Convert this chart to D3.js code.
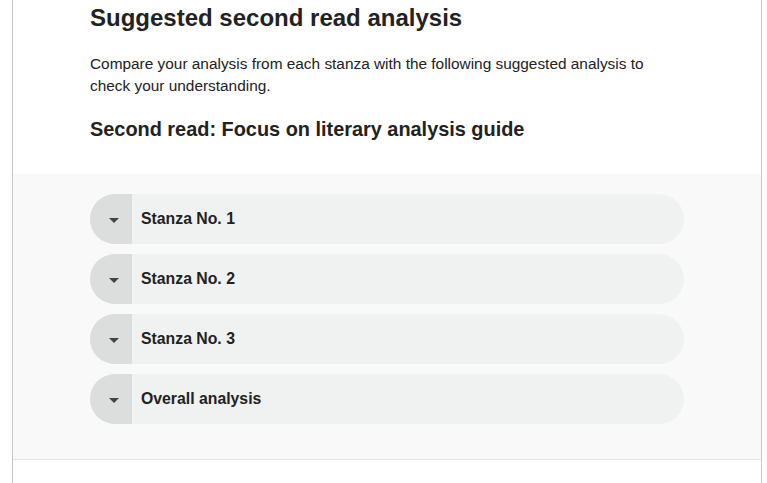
<!DOCTYPE html>
<html><head><meta charset="utf-8">
<script src="https://cdn.jsdelivr.net/npm/d3@7"></script>
<style>body{margin:0;background:#fff;font-family:"Liberation Sans",Arial,sans-serif;}</style>
</head><body>
<svg id="page" width="767" height="483"></svg>
<script>
var title = 'Suggested second read analysis';
var introLines = ['Compare your analysis from each stanza with the following suggested analysis to',
  'check your understanding.'];
var subTitle = 'Second read: Focus on literary analysis guide';
var sections = ['Stanza No. 1', 'Stanza No. 2', 'Stanza No. 3', 'Overall analysis'];

var svg = d3.select('#page');

// panel borders and grey band
svg.append('rect').attr('x', 13).attr('y', 174).attr('width', 748).attr('height', 285).attr('fill', '#f9f9f9');
svg.append('line').attr('x1', 12.5).attr('x2', 12.5).attr('y1', 0).attr('y2', 483).attr('stroke', '#c8c8c8');
svg.append('line').attr('x1', 761.5).attr('x2', 761.5).attr('y1', 0).attr('y2', 483).attr('stroke', '#c8c8c8');
svg.append('line').attr('x1', 13).attr('x2', 761).attr('y1', 459.5).attr('y2', 459.5).attr('stroke', '#e6e6e6');

svg.append('text').attr('x', 90).attr('y', 26).attr('font-size', 24).attr('font-weight', 'bold')
  .attr('fill', '#222').text(title);
svg.selectAll('text.intro').data(introLines).enter().append('text').attr('class', 'intro')
  .attr('x', 90).attr('y', function(d, i) { return 69 + i * 22; })
  .attr('font-size', 15.4).attr('fill', '#222').text(function(d) { return d; });
svg.append('text').attr('x', 90).attr('y', 136).attr('font-size', 19.9).attr('font-weight', 'bold')
  .attr('fill', '#222').text(subTitle);

var y = d3.scaleBand().domain(sections).range([194, 194 + 60 * sections.length - 10]).paddingInner(10 / 60).paddingOuter(0);

var g = svg.selectAll('g.item').data(sections).enter().append('g').attr('class', 'item')
  .attr('transform', function(d) { return 'translate(90,' + y(d) + ')'; });
var h = y.bandwidth();
g.append('rect').attr('width', 594).attr('height', h).attr('rx', h / 2).attr('fill', '#f0f1f1');
g.append('path').attr('d', 'M42,0 H' + h / 2 + ' A' + h / 2 + ',' + h / 2 + ' 0 0 0 ' + h / 2 + ',' + h + ' H42 Z')
  .attr('fill', '#dcdddd');
g.append('path').attr('d', 'M19,' + (h / 2 - 1) + ' h10 l-5,5 z').attr('fill', '#444');
g.append('text').attr('x', 51).attr('y', h / 2 + 5).attr('font-size', 15.8).attr('font-weight', 'bold')
  .attr('fill', '#222').text(function(d) { return d; });
</script>
</body></html>
